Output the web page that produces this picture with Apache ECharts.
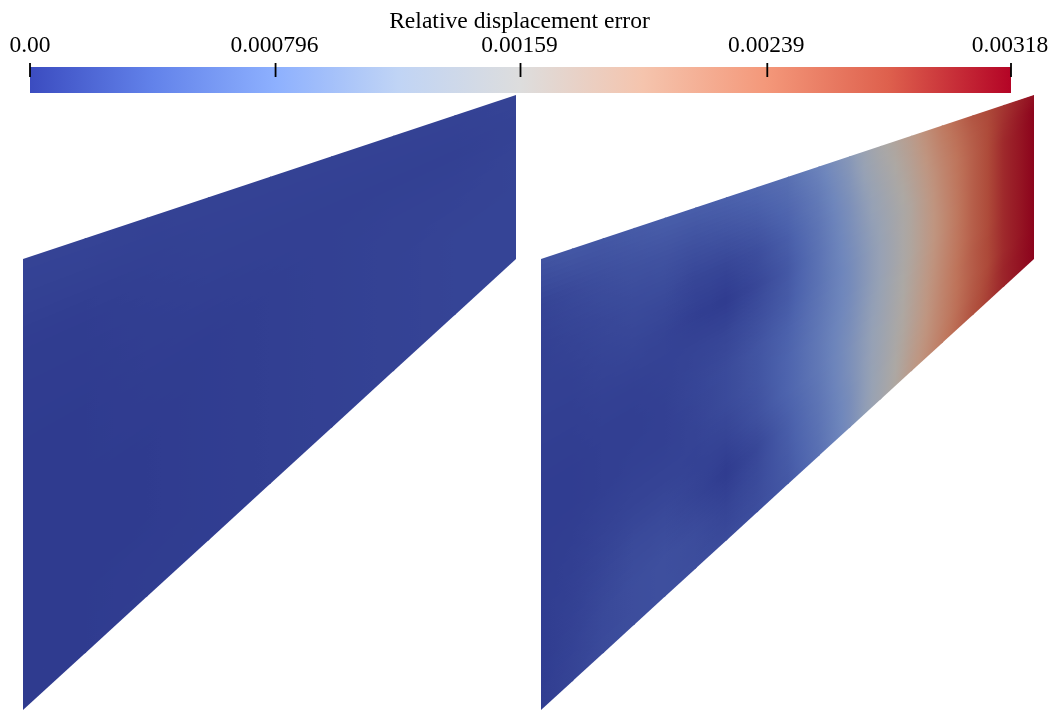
<!DOCTYPE html>
<html>
<head>
<meta charset="utf-8">
<style>html,body{margin:0;padding:0;background:#fff}#c{width:1055px;height:711px}</style>
<script src="https://cdn.jsdelivr.net/npm/echarts@6/dist/echarts.min.js"></script>
</head>
<body>
<div id="c"></div>
<script>
// Colour scale
var scaleMax = 0.00318;
var tickValues = [0, 0.000796, 0.00159, 0.00239, 0.00318];
var tickLabels = ['0.00', '0.000796', '0.00159', '0.00239', '0.00318'];
var titleText = 'Relative displacement error';
var colormapStops = [[59,76,192],[98,130,234],[141,176,254],[192,212,245],[221,221,221],[245,196,173],[244,152,122],[222,96,77],[180,4,38]];
var surfaceShade = [0.78, 0.76, 0.74];

// Membrane outline (x extent, lower edge y, upper edge y)
var domainX = [0, 48];
var lowerEdgeY = [0, 44];
var upperEdgeY = [44, 60];

// Error, in % of scaleMax; rows run lower edge -> upper edge
var leftField = [
  [0.5,0.5,1,1,1.5,2,2.5,3,3],
  [0.5,0.5,0.5,1,1.5,2,2.5,3,3],
  [0.5,0.5,0.5,1,1.5,2,2.5,3,3],
  [0.5,0.5,1,1,1.5,2,2.5,2.5,3],
  [1,1,1.5,2,2,2,2,2,2.5],
  [3,3,2.5,2.5,2.5,2.5,2.5,2.5,3]
];
var rightField = [
  [1,3,5,6,6.5,6,5,6,9,17,28,43,59,72,85,94,100],
  [1,2.5,4.5,6,6.5,5.5,3,5,10,18,28,42,57,70,83,94,100],
  [1,2,3.5,5,5,3,0.5,4,11,19,29,41,55,69,82,93,100],
  [1,1.5,2.5,3,3,2.5,3,7,13,20,29,40,54,68,82,93,100],
  [1,1,1.5,2,2,3,5,8,13,20,28,39,53,67,81,93,100],
  [1,1,1.5,1.5,2,3.5,5,8,12,19,27,38,52,66,81,93,100],
  [1.5,1.5,2,2,2.5,3,3.5,6,10,18,27,38,52,66,81,93,100],
  [2,2,3,3.5,3,1.5,0.5,4,9,18,28,39,52,67,81,93,100],
  [2,3,4,5,5,3.5,3.5,6,11,19,29,41,54,68,81,93,100],
  [3,4.5,6,7,7.5,7,8,10,14,21,31,44,56,70,82,92,100],
  [8,9,9,10,11,11,12,14,17,24,33,47,58,72,84,91,98]
];

function rgb(c){return 'rgb('+Math.round(c[0])+','+Math.round(c[1])+','+Math.round(c[2])+')';}
function surfaceColor(pct){
  var p = Math.max(0, Math.min(1, pct/100)) * (colormapStops.length-1);
  var i = Math.min(colormapStops.length-2, Math.floor(p)), f = p-i;
  var a = colormapStops[i], b = colormapStops[i+1];
  return rgb([0,1,2].map(function(k){return (a[k]+(b[k]-a[k])*f)*surfaceShade[k];}));
}
function cellsOf(field){
  var out = [];
  for (var r=0;r<field.length-1;r++) for (var c=0;c<field[0].length-1;c++) out.push([c,r]);
  return out;
}
function fieldSeries(field, gridIndex){
  var nr = field.length-1, nc = field[0].length-1, strips = 8, lap = 0.15;
  return {
    type:'custom', xAxisIndex:gridIndex, yAxisIndex:gridIndex, silent:true, clip:false,
    animation:false, progressive:0, encode:{x:0,y:1},
    data:cellsOf(field),
    renderItem:function(params, api){
      var c = api.value(0), r = api.value(1), kids = [];
      var s0 = c/nc, s1 = (c+1)/nc;
      var xa = domainX[0]+s0*(domainX[1]-domainX[0]), xb = domainX[0]+s1*(domainX[1]-domainX[0]);
      var xr = c<nc-1 ? xb+lap : xb;
      function yAt(x,t){
        var s = x/domainX[1];
        var lo = lowerEdgeY[0]+s*(lowerEdgeY[1]-lowerEdgeY[0]);
        var hi = upperEdgeY[0]+s*(upperEdgeY[1]-upperEdgeY[0]);
        return lo+t*(hi-lo);
      }
      for (var k=0;k<strips;k++){
        var t0 = (r+k/strips)/nr, t1 = (r+(k+1)/strips)/nr, m = (k+0.5)/strips;
        var up = (r===nr-1 && k===strips-1) ? 0 : lap;
        var p = [api.coord([xa,yAt(xa,t0)]),api.coord([xr,yAt(xr,t0)]),api.coord([xr,yAt(xr,t1)+up]),api.coord([xa,yAt(xa,t1)+up])];
        var pa = api.coord([xa,0])[0], pb = api.coord([xb,0])[0];
        var va = field[r][c]+(field[r+1][c]-field[r][c])*m;
        var vb = field[r][c+1]+(field[r+1][c+1]-field[r][c+1])*m;
        var g = {type:'linear',x:pa,y:0,x2:pb,y2:0,global:true,
          colorStops:[0,0.25,0.5,0.75,1].map(function(f){return {offset:f,color:surfaceColor(va+(vb-va)*f)};})};
        kids.push({type:'polygon',shape:{points:p},style:{fill:g}});
      }
      return {type:'group',children:kids};
    }
  };
}

var chart = echarts.init(document.getElementById('c'), null, {renderer:'canvas'});
var serif = '"Liberation Serif"';
function hiddenX(i){return {type:'value',gridIndex:i,min:domainX[0],max:domainX[1],show:false};}
function hiddenY(i){return {type:'value',gridIndex:i,min:0,max:upperEdgeY[1],show:false};}
chart.setOption({
  backgroundColor:'#ffffff',
  animation:false,
  title:{text:titleText,left:514.5,top:5,textAlign:'center',
    textStyle:{fontFamily:serif,fontSize:23.6,fontWeight:'normal',color:'#000'}},
  grid:[
    {left:23,top:95,width:493,height:615},
    {left:541,top:95,width:493,height:615},
    {left:30,top:67,width:981,height:26}
  ],
  xAxis:[hiddenX(0),hiddenX(1),{
    type:'value',gridIndex:2,min:0,max:scaleMax,position:'top',offset:4,z:10,
    splitLine:{show:false},axisLine:{show:false},axisTick:{show:false},
    axisLabel:{show:true,margin:5,customValues:tickValues,hideOverlap:false,showMinLabel:true,showMaxLabel:true,
      fontFamily:serif,fontSize:23.5,color:'#000',
      formatter:function(v){
        var i = tickValues.indexOf(v);
        return (i===0?'{a|':'{b|')+tickLabels[i]+'}';
      },
      rich:{a:{fontFamily:serif,fontSize:23.5,color:'#000'},
            b:{fontFamily:serif,fontSize:23.5,color:'#000',padding:[0,2,0,0]}}
    }
  }],
  yAxis:[hiddenY(0),hiddenY(1),{type:'value',gridIndex:2,min:0,max:1,show:false}],
  series:[
    fieldSeries(leftField,0),
    fieldSeries(rightField,1),
    {type:'custom',xAxisIndex:2,yAxisIndex:2,silent:true,animation:false,clip:false,z:2,
     encode:{x:[0,1]},data:[[0,scaleMax]],
     renderItem:function(params,api){
       var a = api.coord([api.value(0),1]), b = api.coord([api.value(1),0]);
       return {type:'rect',shape:{x:a[0],y:a[1],width:b[0]-a[0],height:b[1]-a[1]},
         style:{fill:{type:'linear',x:0,y:0,x2:1,y2:0,
           colorStops:colormapStops.map(function(c,i){return {offset:i/(colormapStops.length-1),color:rgb(c)};})}}};
     }},
    {type:'custom',xAxisIndex:2,yAxisIndex:2,silent:true,animation:false,clip:false,z:5,
     encode:{x:0},data:tickValues.map(function(v){return [v];}),
     renderItem:function(params,api){
       var a = api.coord([api.value(0),1+4/26]), b = api.coord([api.value(0),1-10/26]);
       return {type:'line',shape:{x1:a[0],y1:a[1],x2:b[0],y2:b[1]},style:{stroke:'#000',lineWidth:1.8}};
     }}
  ]
});
</script>
</body>
</html>
